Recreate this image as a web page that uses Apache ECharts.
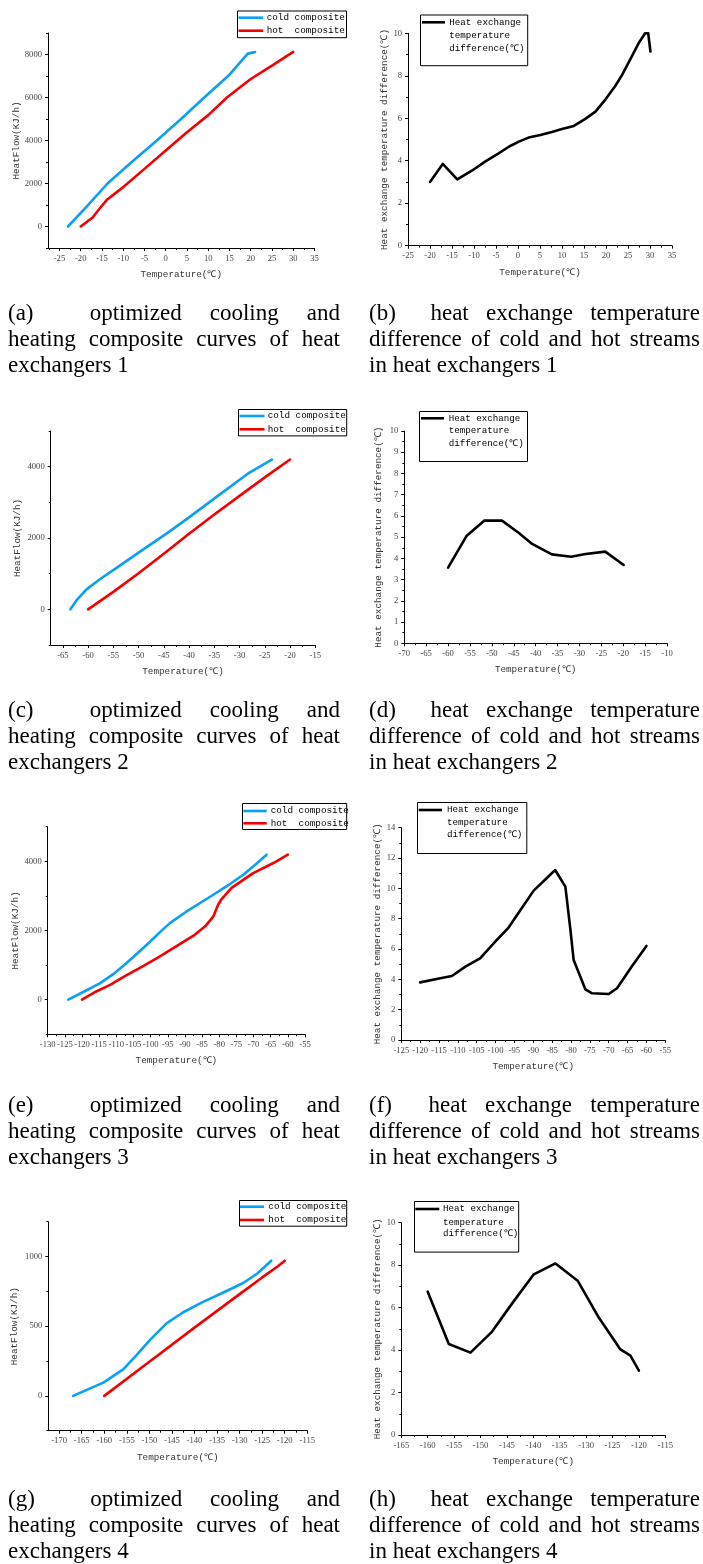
<!DOCTYPE html>
<html>
<head>
<meta charset="utf-8">
<script src="https://cdn.jsdelivr.net/npm/echarts@6/dist/echarts.min.js"></script>
<style>
html,body{margin:0;padding:0;background:#fff;}
#wrap{position:relative;width:703px;height:1564px;overflow:hidden;}
#chart{position:absolute;left:0;top:0;width:703px;height:1564px;}
.cap{position:absolute;font-family:"Liberation Serif","Times New Roman",serif;font-size:23px;line-height:26px;color:#000;}
.cap .j{text-align:justify;text-align-last:justify;white-space:nowrap;}
.cap .l{text-align:left;white-space:nowrap;}
</style>
</head>
<body>
<div id="wrap">
<div id="chart"></div>
<div class="cap" style="left:8px;top:300px;width:332px"><div class="j">(a)&nbsp; optimized cooling and</div><div class="j">heating composite curves of heat</div><div class="l">exchangers 1</div></div>
<div class="cap" style="left:369px;top:300px;width:331px"><div class="j">(b)&nbsp; heat exchange temperature</div><div class="j">difference of cold and hot streams</div><div class="l">in heat exchangers 1</div></div>
<div class="cap" style="left:8px;top:697px;width:332px"><div class="j">(c)&nbsp; optimized cooling and</div><div class="j">heating composite curves of heat</div><div class="l">exchangers 2</div></div>
<div class="cap" style="left:369px;top:697px;width:331px"><div class="j">(d)&nbsp; heat exchange temperature</div><div class="j">difference of cold and hot streams</div><div class="l">in heat exchangers 2</div></div>
<div class="cap" style="left:8px;top:1092px;width:332px"><div class="j">(e)&nbsp; optimized cooling and</div><div class="j">heating composite curves of heat</div><div class="l">exchangers 3</div></div>
<div class="cap" style="left:369px;top:1092px;width:331px"><div class="j">(f)&nbsp; heat exchange temperature</div><div class="j">difference of cold and hot streams</div><div class="l">in heat exchangers 3</div></div>
<div class="cap" style="left:8px;top:1486px;width:332px"><div class="j">(g)&nbsp; optimized cooling and</div><div class="j">heating composite curves of heat</div><div class="l">exchangers 4</div></div>
<div class="cap" style="left:369px;top:1486px;width:331px"><div class="j">(h)&nbsp; heat exchange temperature</div><div class="j">difference of cold and hot streams</div><div class="l">in heat exchangers 4</div></div>
</div>
<script>
// ---------------- DATA ----------------
// (a) heat exchanger 1 composite curves [temperature, heat flow]
const coldA = [[-23,0],[-18.5,950],[-13.7,2000],[-8,3000],[-2.1,4000],[3.6,5000],[9.05,6000],[15,7060],[19.3,8040],[21,8110]];
const hotA  = [[-20,0],[-17.2,420],[-15.5,850],[-13.9,1230],[-11.9,1540],[-9.9,1850],[-5,2680],[0,3530],[5,4380],[10,5180],[14.4,6000],[20,6860],[25,7480],[30,8120]];
// (b) heat exchanger 1 temperature difference
const diffB = [[-20,3.0],[-17.1,3.85],[-13.8,3.12],[-10.5,3.53],[-7.4,3.97],[-4.4,4.35],[-2.1,4.66],[0.2,4.9],[2.4,5.09],[5.1,5.21],[7.7,5.35],[10,5.49],[12.7,5.64],[15.3,5.97],[17.6,6.31],[19.9,6.89],[22.1,7.52],[23.6,8.02],[25.9,8.93],[27.4,9.53],[28.9,10.0],[29.6,10.0],[30.1,9.14]];
// (c) heat exchanger 2 composite curves
const coldC = [[-63.5,0],[-62.3,250],[-60.3,560],[-57.6,850],[-55,1100],[-50,1590],[-44.4,2130],[-39.8,2600],[-34.5,3160],[-28.3,3810],[-23.6,4200]];
const hotC  = [[-60,0],[-55,490],[-50,1010],[-45,1560],[-40,2120],[-35,2660],[-30,3180],[-25,3700],[-20,4200]];
// (d) heat exchanger 2 temperature difference
const diffD = [[-60,3.56],[-55.8,5.05],[-51.7,5.78],[-47.7,5.78],[-43.9,5.21],[-40.8,4.68],[-36.3,4.19],[-31.9,4.08],[-28.6,4.21],[-24.1,4.32],[-19.9,3.69]];
// (e) heat exchanger 3 composite curves
const coldE = [[-124,0],[-119.5,230],[-114.7,480],[-111,730],[-107,1060],[-104,1330],[-101.1,1590],[-97.5,1930],[-94.3,2220],[-89.5,2550],[-83.7,2910],[-77.8,3280],[-73,3610],[-69.5,3900],[-66.2,4190]];
const hotE  = [[-120,0],[-116,230],[-111.8,430],[-107.5,680],[-103.1,920],[-98,1210],[-93.4,1490],[-87.5,1850],[-84.1,2120],[-81.7,2410],[-80.3,2750],[-79.3,2910],[-76.4,3230],[-70.1,3660],[-64.2,3950],[-60,4190]];
// (f) heat exchanger 3 temperature difference
const diffF = [[-120,3.8],[-115,4.05],[-111.6,4.22],[-108,4.84],[-104.1,5.38],[-100.1,6.48],[-96.5,7.43],[-93.4,8.57],[-89.9,9.85],[-84.2,11.21],[-81.5,10.11],[-80.2,7.36],[-79.3,5.27],[-76.2,3.34],[-74.4,3.08],[-70,3.03],[-67.8,3.41],[-63.8,4.88],[-60,6.2]];
// (g) heat exchanger 4 composite curves
const coldG = [[-166.9,0],[-160.2,95],[-155.8,190],[-152.9,290],[-149.9,400],[-146.2,520],[-142.5,600],[-138.1,675],[-133.7,740],[-129.2,810],[-126,880],[-123,970]];
const hotG  = [[-160,0],[-150,245],[-140,490],[-130,730],[-125,850],[-121.5,930],[-120,970]];
// (h) heat exchanger 4 temperature difference
const diffH = [[-160,6.75],[-156,4.29],[-151.9,3.88],[-147.8,4.87],[-144,6.2],[-139.9,7.57],[-135.8,8.08],[-131.6,7.27],[-127.6,5.53],[-123.5,4.03],[-121.6,3.74],[-120,3.03]];

// Tick labels (major ticks)
const xTicksA = [-25,-20,-15,-10,-5,0,5,10,15,20,25,30,35];
const yTicksA = [0,2000,4000,6000,8000];
const xTicksB = [-25,-20,-15,-10,-5,0,5,10,15,20,25,30,35];
const yTicksB = [0,2,4,6,8,10];
const xTicksC = [-65,-60,-55,-50,-45,-40,-35,-30,-25,-20,-15];
const yTicksC = [0,2000,4000];
const xTicksD = [-70,-65,-60,-55,-50,-45,-40,-35,-30,-25,-20,-15,-10];
const yTicksD = [0,1,2,3,4,5,6,7,8,9,10];
const xTicksE = [-130,-125,-120,-115,-110,-105,-100,-95,-90,-85,-80,-75,-70,-65,-60,-55];
const yTicksE = [0,2000,4000];
const xTicksF = [-125,-120,-115,-110,-105,-100,-95,-90,-85,-80,-75,-70,-65,-60,-55];
const yTicksF = [0,2,4,6,8,10,12,14];
const xTicksG = [-170,-165,-160,-155,-150,-145,-140,-135,-130,-125,-120,-115];
const yTicksG = [0,500,1000];
const xTicksH = [-165,-160,-155,-150,-145,-140,-135,-130,-125,-120,-115];
const yTicksH = [0,2,4,6,8,10];

const xTitle = 'Temperature(℃)';
const yTitleComp = 'HeatFlow(KJ/h)';
const yTitleDiff = 'Heat exchange temperature difference(℃)';
const coldName = 'cold composite';
const hotName = 'hot  composite';
const diffName = ['Heat exchange','temperature','difference(℃)'];

// ---------------- LAYOUT ----------------
const BLUE = '#0aa0f5', RED = '#f50000', BLACK = '#000';
const MONO = '"Liberation Mono","DejaVu Sans Mono",monospace';
const SERIF = '"Liberation Serif","DejaVu Serif",serif';

const panels = [
  {g:[48,33,266.5,215],   x:[-27.7,35],   y:[-1000,9000], xt:xTicksA, yt:yTicksA, comp:true,  yGap:27, series:[[coldA,BLUE],[hotA,RED]]},
  {g:[408,33.3,264,212.4],x:[-25,35],     y:[0,10],       xt:xTicksB, yt:yTicksB, comp:false, yGap:19, series:[[diffB,BLACK]]},
  {g:[50.7,431,264.6,214],x:[-67.4,-15],  y:[-1000,5000], xt:xTicksC, yt:yTicksC, comp:true,  yGap:29, series:[[coldC,BLUE],[hotC,RED]]},
  {g:[404.3,431,262.7,212.3],x:[-70,-10], y:[0,10],       xt:xTicksD, yt:yTicksD, comp:false, yGap:21, series:[[diffD,BLACK]]},
  {g:[47.7,826.7,257.3,207.6],x:[-130,-55],y:[-1000,5000],xt:xTicksE, yt:yTicksE, comp:true,  yGap:28, series:[[coldE,BLUE],[hotE,RED]]},
  {g:[401.3,827.7,264,212.3],x:[-125,-55],y:[0,14],       xt:xTicksF, yt:yTicksF, comp:false, yGap:19, series:[[diffF,BLACK]]},
  {g:[48.3,1221.7,259,209],x:[-172.4,-115],y:[-250,1250], xt:xTicksG, yt:yTicksG, comp:true,  yGap:29, series:[[coldG,BLUE],[hotG,RED]]},
  {g:[401.3,1222.7,264,212.3],x:[-165,-115],y:[0,10],     xt:xTicksH, yt:yTicksH, comp:false, yGap:19, series:[[diffH,BLACK]]}
];

// legend boxes: [x, y, w, h], line x range, text x, row y's
const legends = [
  {box:[237.5,11,109,26.7], lx:[238.5,263.3], tx:266.7, rows:[17.7,30.7]},
  {box:[420.5,15,107.2,50.7], lx:[422,445], tx:449.3, rows:[22.3,35.3,48.3]},
  {box:[238.5,409.5,108.2,26.4], lx:[239.5,264.5], tx:267.7, rows:[416,429.3]},
  {box:[419.5,411.5,108,50], lx:[421,444], tx:448.7, rows:[418.3,431,443.7]},
  {box:[242.5,803.5,104.2,26], lx:[243.3,266.7], tx:270.7, rows:[811,823.3]},
  {box:[417.5,802.5,109.3,51], lx:[418.7,442], tx:447, rows:[810,822.7,834.3]},
  {box:[239.5,1200.5,107.2,25.7], lx:[240,264], tx:268.3, rows:[1206.7,1220]},
  {box:[414.5,1201.5,104.2,50.6], lx:[415.3,439.3], tx:443, rows:[1209,1222.3,1234]}
];

function minorsOf(maj, lo, hi) {
  const step = maj[1] - maj[0];
  const out = [];
  for (let v = maj[0] - step / 2; v <= maj[maj.length - 1] + step / 2 + 1e-9; v += step) {
    if (v >= lo - 1e-9 && v <= hi + 1e-9) out.push(Math.round(v * 1000) / 1000);
  }
  return out;
}

const grids = [], xAxes = [], yAxes = [], series = [], graphic = [];
const labelStyle = {fontFamily: SERIF, fontSize: 8.6, color: '#444', formatter: v => String(v), showMinLabel: true, showMaxLabel: true, hideOverlap: false};
const nameStyle = {fontFamily: MONO, fontSize: 9.3, color: '#333'};

panels.forEach((p, i) => {
  grids.push({left: p.g[0], top: p.g[1], width: p.g[2], height: p.g[3], containLabel: false});
  const xMin = minorsOf(p.xt, p.x[0], p.x[1]);
  const yMin = minorsOf(p.yt, p.y[0], p.y[1]);
  xAxes.push({
    type: 'value', gridIndex: i, min: p.x[0], max: p.x[1], position: 'bottom',
    axisLine: {show: true, onZero: false, lineStyle: {color: '#000', width: 1}},
    axisTick: {show: true, inside: false, length: 3, customValues: p.xt, lineStyle: {color: '#000', width: 1}},
    axisLabel: {show: true, customValues: p.xt, margin: 6, ...labelStyle},
    splitLine: {show: false},
    name: xTitle, nameLocation: 'middle', nameGap: 22, nameTextStyle: nameStyle
  });
  xAxes.push({
    type: 'value', gridIndex: i, min: p.x[0], max: p.x[1], position: 'bottom',
    axisLine: {show: false, onZero: false},
    axisTick: {show: true, inside: false, length: 2, customValues: xMin, lineStyle: {color: '#000', width: 1}},
    axisLabel: {show: false}, splitLine: {show: false}
  });
  yAxes.push({
    type: 'value', gridIndex: i, min: p.y[0], max: p.y[1], position: 'left',
    axisLine: {show: true, onZero: false, lineStyle: {color: '#000', width: 1}},
    axisTick: {show: true, inside: false, length: 3, customValues: p.yt, lineStyle: {color: '#000', width: 1}},
    axisLabel: {show: true, customValues: p.yt, margin: 6, ...labelStyle},
    splitLine: {show: false},
    name: p.comp ? yTitleComp : yTitleDiff, nameLocation: 'middle', nameGap: p.yGap, nameTextStyle: nameStyle
  });
  yAxes.push({
    type: 'value', gridIndex: i, min: p.y[0], max: p.y[1], position: 'left',
    axisLine: {show: false, onZero: false},
    axisTick: {show: true, inside: false, length: 2, customValues: yMin, lineStyle: {color: '#000', width: 1}},
    axisLabel: {show: false}, splitLine: {show: false}
  });
  p.series.forEach((s, k) => {
    series.push({
      type: 'line', name: p.comp ? (k === 0 ? coldName : hotName) : diffName.join(' '),
      xAxisIndex: 2 * i, yAxisIndex: 2 * i, data: s[0],
      showSymbol: false, symbol: 'none', smooth: false,
      lineStyle: {color: s[1], width: 2.6, cap: 'round', join: 'round'},
      itemStyle: {color: s[1]}, clip: true, silent: true
    });
  });
  // legend
  const L = legends[i];
  graphic.push({type: 'rect', z: 100, shape: {x: L.box[0], y: L.box[1], width: L.box[2], height: L.box[3]},
    style: {fill: '#fff', stroke: '#000', lineWidth: 1}});
  if (p.comp) {
    [[coldName, BLUE], [hotName, RED]].forEach((it, r) => {
      graphic.push({type: 'line', z: 101, shape: {x1: L.lx[0], y1: L.rows[r], x2: L.lx[1], y2: L.rows[r]},
        style: {stroke: it[1], lineWidth: 2.6}});
      graphic.push({type: 'text', z: 101, x: L.tx, y: L.rows[r],
        style: {text: it[0], fontFamily: MONO, fontSize: 9.3, fill: '#000', verticalAlign: 'middle', align: 'left'}});
    });
  } else {
    graphic.push({type: 'line', z: 101, shape: {x1: L.lx[0], y1: L.rows[0], x2: L.lx[1], y2: L.rows[0]},
      style: {stroke: BLACK, lineWidth: 2.6}});
    diffName.forEach((t, r) => {
      graphic.push({type: 'text', z: 101, x: L.tx, y: L.rows[r],
        style: {text: t, fontFamily: MONO, fontSize: 9.2, fill: '#000', verticalAlign: 'middle', align: 'left'}});
    });
  }
});

const chart = echarts.init(document.getElementById('chart'), null, {renderer: 'canvas'});
chart.setOption({
  animation: false,
  backgroundColor: 'transparent',
  grid: grids, xAxis: xAxes, yAxis: yAxes, series: series, graphic: graphic
});
</script>
</body>
</html>
